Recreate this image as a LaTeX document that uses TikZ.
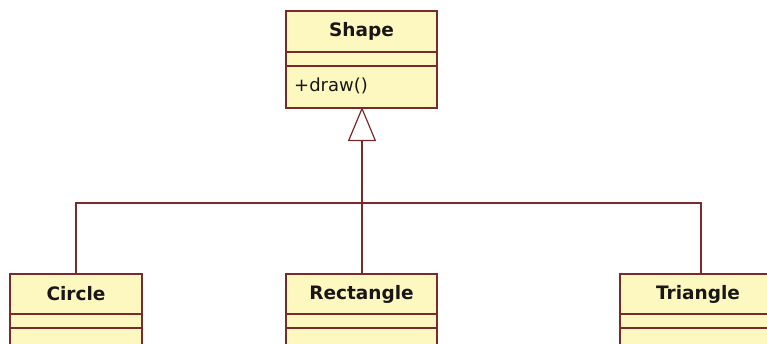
\documentclass[tikz,border=0pt]{standalone}
\usepackage{fontspec}
\setmainfont{DejaVu Sans}
\usetikzlibrary{arrows.meta}
\definecolor{classfill}{RGB}{252,248,192}
\definecolor{classline}{RGB}{122,42,42}
\definecolor{classtext}{RGB}{26,22,22}
\tikzset{
  classbox/.style={draw=classline, fill=classfill, line width=1.8pt, inner sep=0pt, anchor=north},
  sep/.style={draw=classline, line width=1.8pt},
  classname/.style={font=\fontsize{18.5}{22}\selectfont\bfseries, text=classtext, inner sep=0pt},
  member/.style={font=\fontsize{18}{22}\selectfont, text=classtext, inner sep=0pt, anchor=west},
  link/.style={draw=classline, line width=1.8pt},
  inherit/.style={draw=classline, line width=2pt, -{Triangle[open, length=34pt, width=28pt, line width=1.2pt]}},
}
\begin{document}
\begin{tikzpicture}[x=1pt, y=-1pt]
  \useasboundingbox (0,0) rectangle (767,343);
  \clip (0,0) rectangle (767,343);

  % superclass
  \node[classbox, minimum width=151pt, minimum height=97pt] (shape) at (361.5,10) {};
  \draw[sep] (286,52) -- (437,52) (286,66) -- (437,66);
  \node[classname] (shapename) at (361.5,31) {Shape};
  \node[member] (shapedraw) at (294,86) {+draw()};

  % subclasses (lower part runs past the edge)
  \node[classbox, minimum width=132pt, minimum height=100pt] (circle) at (76,273) {};
  \draw[sep] (10,314) -- (142,314) (10,328) -- (142,328);
  \node[classname] (circlename) at (76,294) {Circle};

  \node[classbox, minimum width=151pt, minimum height=100pt] (rect) at (361.5,273) {};
  \draw[sep] (286,314) -- (437,314) (286,328) -- (437,328);
  \node[classname] (rectname) at (361.5,294) {Rectangle};

  \node[classbox, minimum width=162pt, minimum height=100pt] (tri) at (701,273) {};
  \draw[sep] (620,314) -- (782,314) (620,328) -- (782,328);
  \node[classname] (triname) at (698,294) {Triangle};

  % generalization tree
  \coordinate (bar) at (362,203);
  \coordinate (top) at (362,107);
  \draw[link] (circle.north) |- (bar) -| (tri.north);
  \draw[link] (rect.north -| bar) -- (bar);
  \draw[inherit] (bar) -- (top);
\end{tikzpicture}
\end{document}
